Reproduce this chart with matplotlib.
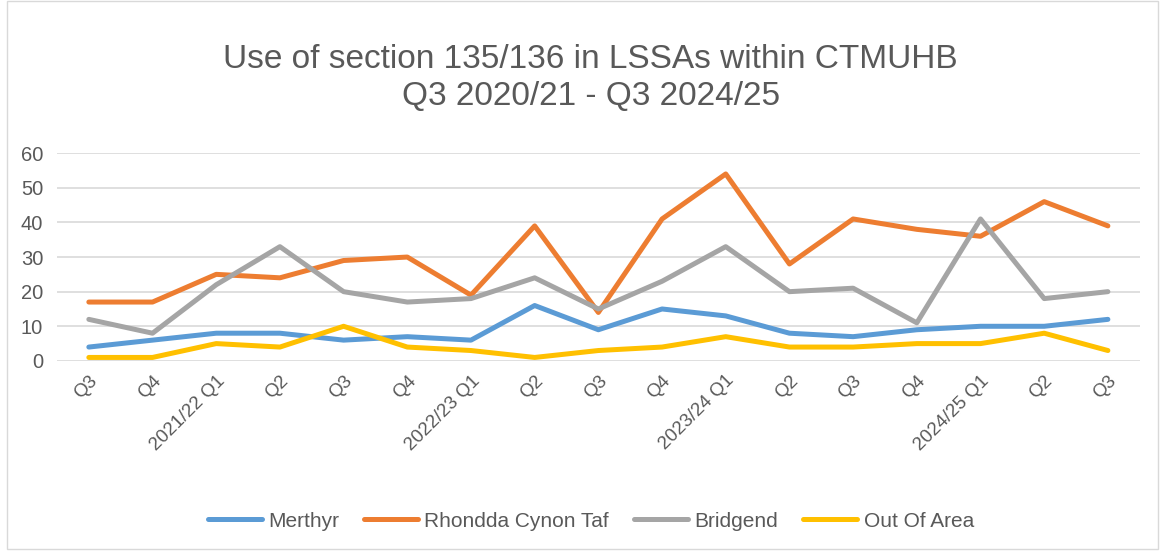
import matplotlib.pyplot as plt
from matplotlib.patches import Rectangle

quarters = ["Q3", "Q4", "2021/22 Q1", "Q2", "Q3", "Q4", "2022/23 Q1", "Q2", "Q3",
            "Q4", "2023/24 Q1", "Q2", "Q3", "Q4", "2024/25 Q1", "Q2", "Q3"]
merthyr = [4, 6, 8, 8, 6, 7, 6, 16, 9, 15, 13, 8, 7, 9, 10, 10, 12]
rct = [17, 17, 25, 24, 29, 30, 19, 39, 14, 41, 54, 28, 41, 38, 36, 46, 39]
bridgend = [12, 8, 22, 33, 20, 17, 18, 24, 15, 23, 33, 20, 21, 11, 41, 18, 20]
out_of_area = [1, 1, 5, 4, 10, 4, 3, 1, 3, 4, 7, 4, 4, 5, 5, 8, 3]

txt = '#595959'
plt.rcParams['font.family'] = ['Liberation Sans', 'DejaVu Sans']

fig = plt.figure(figsize=(11.63, 5.51), dpi=100)
fig.patches.append(Rectangle((0.006, 0.004), 0.99, 0.994, transform=fig.transFigure,
                             fill=False, edgecolor='#d9d9d9', linewidth=1))
ax = fig.add_axes([0.049, 0.345, 0.931, 0.377])

x = list(range(len(quarters)))
series = [("Merthyr", merthyr, '#5B9BD5'),
          ("Rhondda Cynon Taf", rct, '#ED7D31'),
          ("Bridgend", bridgend, '#A5A5A5'),
          ("Out Of Area", out_of_area, '#FFC000')]
for name, vals, col in series:
    ax.plot(x, vals, color=col, lw=3.6, label=name,
            solid_capstyle='round', solid_joinstyle='round')

ax.set_xlim(-0.5, len(quarters) - 0.5)
ax.set_ylim(0, 60)
ax.set_yticks(range(0, 61, 10))
ax.set_xticks(x)
ax.set_xticklabels(quarters, rotation=45, ha='right', rotation_mode='anchor')
ax.tick_params(axis='both', length=0, labelsize=14.5, colors=txt)
ax.tick_params(axis='x', labelsize=13.5, pad=8)
ax.tick_params(axis='y', pad=10)
ax.grid(axis='y', color='#d9d9d9', lw=1.2)
ax.set_axisbelow(True)
for s in ax.spines.values():
    s.set_visible(False)

fig.text(0.508, 0.858, "Use of section 135/136 in LSSAs within CTMUHB\nQ3 2020/21 - Q3 2024/25",
         ha='center', va='center', fontsize=24, color=txt, linespacing=1.25)

leg = fig.legend(loc='center', bbox_to_anchor=(0.508, 0.054), ncol=4, frameon=False,
                 fontsize=15, handlelength=2.6, columnspacing=1.2, handletextpad=0.3)
for t in leg.get_texts():
    t.set_color(txt)

fig.savefig("out.png", dpi=100)
